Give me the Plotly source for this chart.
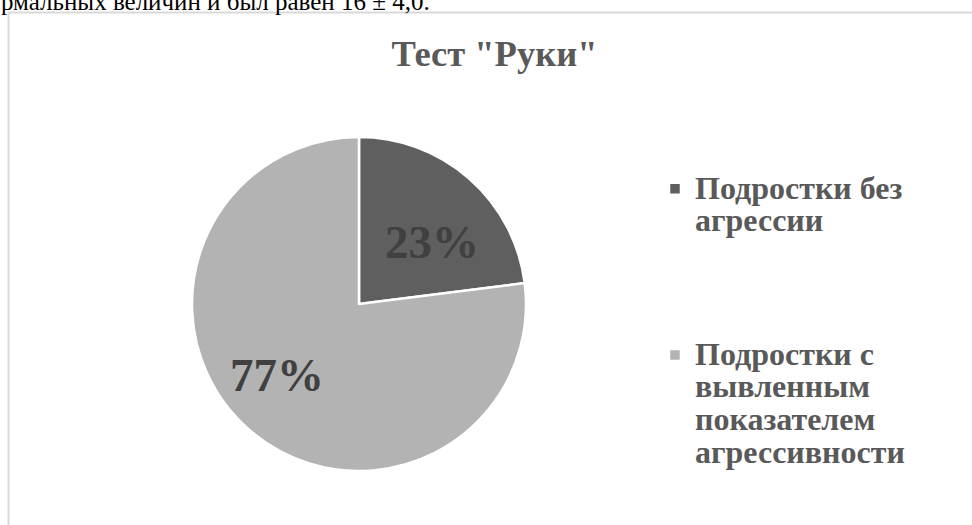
import math
import plotly.graph_objects as go

# Data
labels = ["Подростки без<br>агрессии",
          "Подростки с<br>вывленным<br>показателем<br>агрессивности"]
values = [23, 77]
colors = ["#5f5f5f", "#b3b3b3"]
title_text = 'Тест "Руки"'
page_text = "рмальных величин и был равен 16 ± 4,0."

W, H = 972, 525
cx, cy, r = 359, 304, 167

legend_labels = [
    '<span style="font-size:32px"><b>' + labels[0] + '</b><br>&nbsp;<br>&nbsp;<br>&nbsp;</span>',
    '<span style="font-size:32px"><b>' + labels[1] + '</b></span>',
]

fig = go.Figure(go.Pie(
    labels=legend_labels,
    values=values,
    sort=False,
    direction="clockwise",
    rotation=0,
    marker=dict(colors=colors, line=dict(color="white", width=2.5)),
    textinfo="none",
    domain=dict(x=[(cx - r) / W, (cx + r) / W], y=[(H - cy - r) / H, (H - cy + r) / H]),
    hoverinfo="percent",
))

# percentage labels, placed from the slice angles
total = sum(values)
annotations = []
cum = 0.0
label_radius = [0.575, 0.65]
for v, rf in zip(values, label_radius):
    frac = v / total
    theta = math.radians((cum + frac / 2) * 360 + 8)
    cum += frac
    d = rf * r
    px = cx + d * math.sin(theta)
    py = cy - d * math.cos(theta)
    annotations.append(dict(
        text="<b>" + f"{round(frac * 100)}%" + "</b>",
        xref="paper", yref="paper", x=px / W, y=1 - py / H,
        xanchor="center", yanchor="middle", showarrow=False,
        font=dict(family="Liberation Serif", size=47, color="#404040")))

annotations.append(dict(text=page_text, xref="paper", yref="paper",
                        x=-1 / W, xanchor="left", y=1 - 17 / H, yanchor="bottom",
                        showarrow=False,
                        font=dict(family="Liberation Serif", size=25, color="black")))

fig.update_layout(
    width=W, height=H, autosize=False,
    margin=dict(l=0, r=0, t=0, b=0),
    paper_bgcolor="white",
    font=dict(family="Liberation Serif", color="#595959"),
    title=dict(text="<b>" + title_text + "</b>", x=494.5 / W, xanchor="center",
               y=1 - 66 / H, yanchor="bottom",
               font=dict(family="Liberation Serif", size=36.5, color="#595959")),
    legend=dict(x=655 / W, xanchor="left", y=1 - 166 / H, yanchor="top",
                valign="top",
                font=dict(family="Liberation Serif", size=25.1, color="#595959"),
                bgcolor="rgba(0,0,0,0)"),
    shapes=[dict(type="rect", xref="paper", yref="paper",
                 x0=8.5 / W, x1=1.02, y0=-0.02, y1=1 - 12.5 / H,
                 line=dict(color="#d9d9d9", width=2), layer="below")],
    annotations=annotations,
)

fig.write_html("out.html", config={"displayModeBar": False},
               post_script="document.body.style.margin='0';")
